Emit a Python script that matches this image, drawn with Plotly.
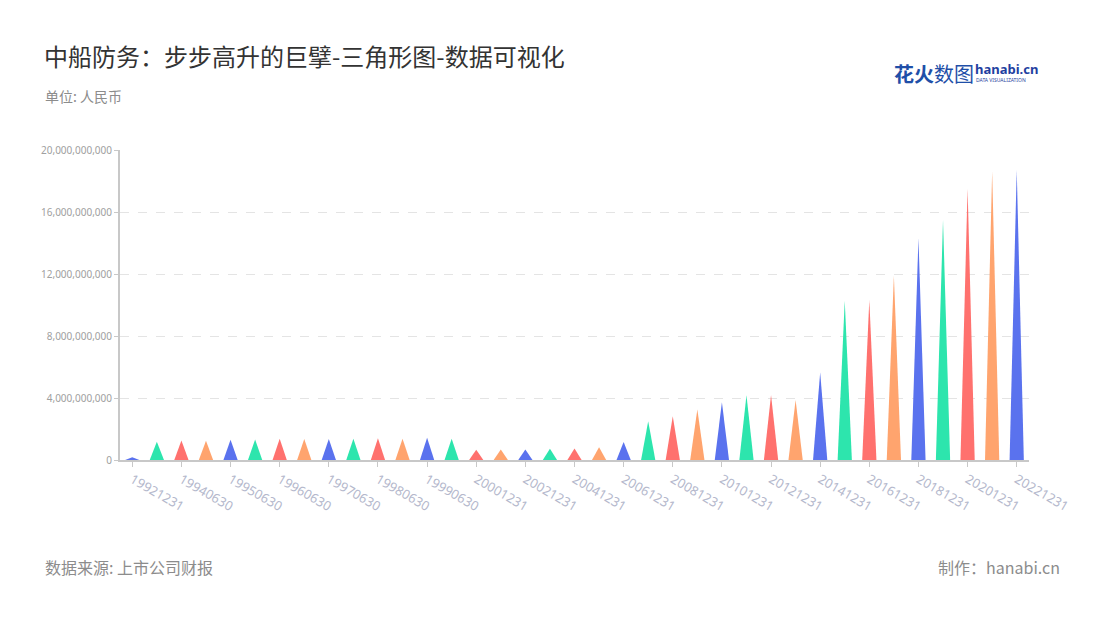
import plotly.graph_objects as go

categories = [
    "19921231", "19931231", "19940630", "19941231", "19950630", "19951231",
    "19960630", "19961231", "19970630", "19971231", "19980630", "19981231",
    "19990630", "19991231", "20001231", "20011231", "20021231", "20031231",
    "20041231", "20051231", "20061231", "20071231", "20081231", "20091231",
    "20101231", "20111231", "20121231", "20131231", "20141231", "20151231",
    "20161231", "20171231", "20181231", "20191231", "20201231", "20211231",
    "20221231",
]
values = [
    0.17e9, 1.18e9, 1.26e9, 1.24e9, 1.30e9, 1.33e9,
    1.37e9, 1.35e9, 1.35e9, 1.37e9, 1.41e9, 1.37e9,
    1.43e9, 1.37e9, 0.66e9, 0.68e9, 0.68e9, 0.73e9,
    0.75e9, 0.83e9, 1.16e9, 2.50e9, 2.83e9, 3.26e9,
    3.72e9, 4.17e9, 4.20e9, 3.87e9, 5.65e9, 10.28e9,
    10.32e9, 11.89e9, 14.30e9, 15.48e9, 17.52e9, 18.62e9,
    18.71e9,
]
palette = ["#5A72EE", "#2DE5AD", "#FF716E", "#FFA46E"]
y_ticks = [0, 4e9, 8e9, 12e9, 16e9, 20e9]

half_w = 0.29
W, H = 1100, 620
ML, MR, MT, MB = 120, 71, 150, 160

fig = go.Figure()
for i, (c, v) in enumerate(zip(categories, values)):
    fig.add_trace(go.Scatter(
        x=[i - half_w, i, i + half_w, i - half_w],
        y=[0, v, 0, 0],
        mode="lines",
        fill="toself",
        fillcolor=palette[i % len(palette)],
        line=dict(width=0, color=palette[i % len(palette)]),
        hoverinfo="text",
        text=f"{c}: {v:,.0f}",
        showlegend=False,
    ))

tick_idx = list(range(0, len(categories), 2))
fig.update_xaxes(
    range=[-0.5, len(categories) - 0.5],
    tickmode="array",
    tickvals=tick_idx,
    ticktext=[categories[i] for i in tick_idx],
    tickangle=30,
    ticks="outside",
    ticklen=5,
    tickcolor="#c8c8c8",
    tickfont=dict(family="Noto Sans", size=13, color="#b4b8cc"),
    showgrid=False,
    zeroline=False,
    showline=True,
    linecolor="#c8c8c8",
    linewidth=2,
)
fig.update_yaxes(
    range=[0, 20e9],
    tickmode="array",
    tickvals=y_ticks,
    ticktext=[f"{int(t):,}" for t in y_ticks],
    tickfont=dict(family="Noto Sans", size=10, color="#a0a0a0"),
    ticks="outside",
    ticklen=4,
    tickcolor="#c8c8c8",
    showgrid=True,
    gridcolor="#e4e4e4",
    griddash="dash",
    gridwidth=1,
    zeroline=False,
    showline=True,
    linecolor="#c8c8c8",
    linewidth=2,
)

fig.update_layout(
    width=W, height=H,
    margin=dict(l=ML, r=MR, t=MT, b=MB),
    plot_bgcolor="white",
    paper_bgcolor="white",
    font=dict(family="Noto Sans CJK SC"),
)

anns = [
    dict(text="中船防务：步步高升的巨擘-三角形图-数据可视化", x=42, y=55,
         xanchor="left", yanchor="middle",
         font=dict(family="Noto Sans CJK SC", size=24, color="#333333")),
    dict(text="单位: 人民币", x=43, y=96, xanchor="left", yanchor="middle",
         font=dict(family="Noto Sans CJK SC", size=14, color="#8c8c8c")),
    dict(text="数据来源: 上市公司财报", x=43, y=567, xanchor="left", yanchor="middle",
         font=dict(family="Noto Sans CJK SC", size=16, color="#8c8c8c")),
    dict(text="制作：hanabi.cn", x=1062, y=567, xanchor="right", yanchor="middle",
         font=dict(family="Noto Sans CJK SC", size=16, color="#8c8c8c")),
    dict(text="<b>花火</b>数图", x=892, y=73, xanchor="left", yanchor="middle",
         font=dict(family="Noto Sans CJK SC", size=20, color="#1f4fa8")),
    dict(text="<b>hanabi.cn</b>", x=973, y=69, xanchor="left", yanchor="middle",
         font=dict(family="Noto Sans", size=13, color="#1f3fa0")),
    dict(text="DATA VISUALIZATION", x=974, y=80, xanchor="left", yanchor="middle",
         font=dict(family="Noto Sans", size=5, color="#1f3fa0")),
]
for a in anns:
    x_px, y_px = a.pop("x"), a.pop("y")
    fig.add_annotation(
        x=(x_px - ML) / (W - ML - MR),
        y=1 - (y_px - MT) / (H - MT - MB),
        xref="paper", yref="paper", showarrow=False, **a,
    )

fig.write_html(
    "out.html",
    config={"displayModeBar": False},
    post_script="document.body.style.margin='0';document.body.style.padding='0';",
)
